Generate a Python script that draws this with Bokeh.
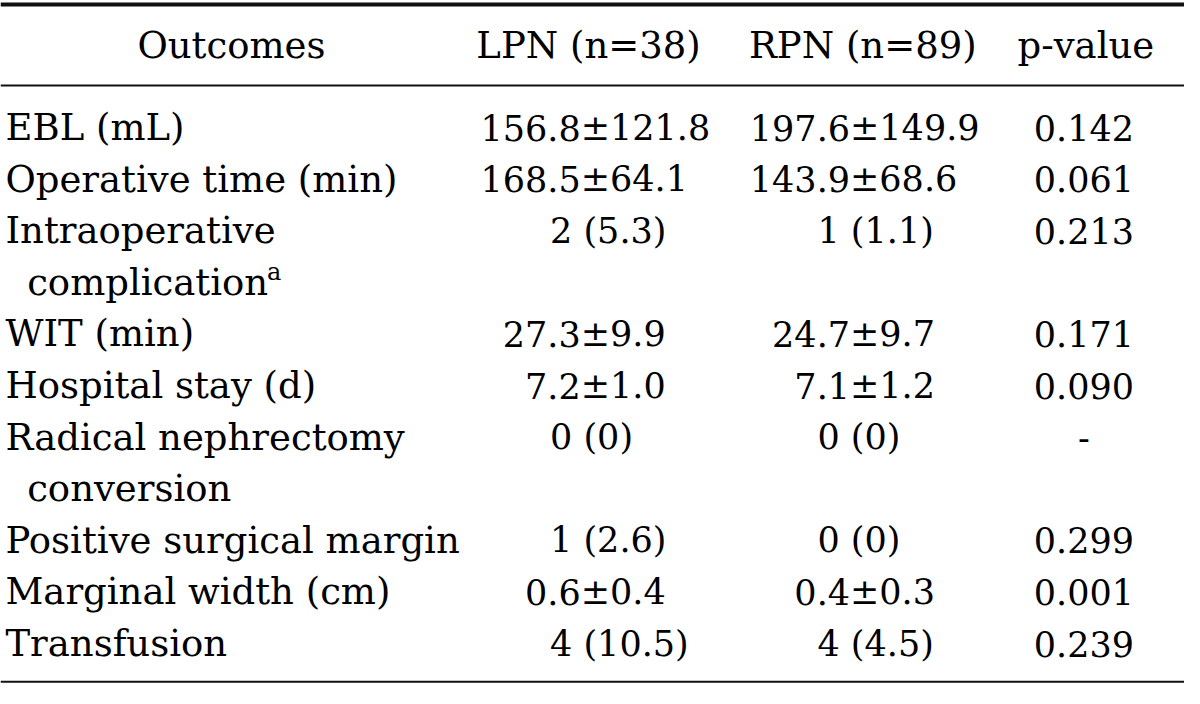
from bokeh.plotting import figure
from bokeh.models import Range1d
from bokeh.embed import file_html
from bokeh.resources import INLINE
from bokeh.core.properties import value

# ---- table content ----
headers = ["Outcomes", "LPN (n=38)", "RPN (n=89)", "p-value"]
label_lines = [
    ["EBL (mL)"],
    ["Operative time (min)"],
    ["Intraoperative", "complication"],
    ["WIT (min)"],
    ["Hospital stay (d)"],
    ["Radical nephrectomy", "conversion"],
    ["Positive surgical margin"],
    ["Marginal width (cm)"],
    ["Transfusion"],
]
footnote_marks = ["", "", "a", "", "", "", "", "", ""]
lpn = ["156.8±121.8", "168.5±64.1", "2 (5.3)", "27.3±9.9", "7.2±1.0",
       "0 (0)", "1 (2.6)", "0.6±0.4", "4 (10.5)"]
rpn = ["197.6±149.9", "143.9±68.6", "1 (1.1)", "24.7±9.7", "7.1±1.2",
       "0 (0)", "0 (0)", "0.4±0.3", "4 (4.5)"]
pvals = ["0.142", "0.061", "0.213", "0.171", "0.090", "-", "0.299", "0.001", "0.239"]

# ---- layout (data units = reference pixels) ----
W, H = 1200, 704
FONT = value("DejaVu Serif")
FS_LABEL = value("37px")
FS_NUM = value("35px")
COLOR = "#000000"
header_y = 46
first_row_y = 130
line_step = 52.8
label_x = 5
indent_x = 27
head_x = [234, 596, 874, 1100]
pm_anchor = {"lpn": 588, "rpn": 861}
count_left = {"lpn": 557, "rpn": 828}
p_x = 1098
char_w = 0.536 * 37 * W / 1184  # approx label char width in data units

p = figure(width=1184, height=688, x_range=Range1d(0, W), y_range=Range1d(H, 0),
           output_backend="svg", toolbar_location=None, min_border=0)
p.axis.visible = False
p.grid.visible = False
p.outline_line_color = None
p.background_fill_color = "white"
p.border_fill_color = "white"

# headers
p.text(x=head_x, y=[header_y] * 4, text=headers, text_font=FONT, text_font_size=FS_LABEL,
       text_align="center", text_baseline="middle", text_color=COLOR)

# row labels
lx, ly, lt = [], [], []
row_y = []
line_idx = 0
sup_lines = []
for i, lines in enumerate(label_lines):
    row_y.append(first_row_y + line_step * line_idx)
    for j, t in enumerate(lines):
        lx.append(label_x if j == 0 else indent_x)
        ly.append(first_row_y + line_step * line_idx)
        lt.append(t)
        line_idx += 1
    if footnote_marks[i]:
        sup_lines.append((lx[-1], ly[-1], lt[-1], footnote_marks[i]))

p.text(x=lx, y=ly, text=lt, text_font=FONT, text_font_size=FS_LABEL,
       text_align="left", text_baseline="middle", text_color=COLOR)

# superscript footnote marks after the label text
for (x0, y0, t, m) in sup_lines:
    p.text(x=[x0 + char_w * len(t) + 2], y=[y0 - 11], text=[m], text_font=FONT,
           text_font_size=value("24px"), text_align="left", text_baseline="middle",
           text_color=COLOR)

# value columns: "±" values aligned on the ± sign, counts left-aligned
for key, col in (("lpn", lpn), ("rpn", rpn)):
    rx_, ry_, rt_ = [], [], []
    lx_, ly_, lt_ = [], [], []
    cx_, cy_, ct_ = [], [], []
    for v, y in zip(col, row_y):
        if "±" in v:
            a, b = v.split("±")
            rx_.append(pm_anchor[key]); ry_.append(y); rt_.append(a)
            lx_.append(pm_anchor[key]); ly_.append(y); lt_.append("±" + b)
        else:
            cx_.append(count_left[key]); cy_.append(y); ct_.append(v)
    p.text(x=rx_, y=ry_, text=rt_, text_font=FONT, text_font_size=FS_NUM,
           text_align="right", text_baseline="middle", text_color=COLOR)
    p.text(x=lx_, y=ly_, text=lt_, text_font=FONT, text_font_size=FS_NUM,
           text_align="left", text_baseline="middle", text_color=COLOR)
    p.text(x=cx_, y=cy_, text=ct_, text_font=FONT, text_font_size=FS_NUM,
           text_align="left", text_baseline="middle", text_color=COLOR)

p.text(x=[p_x] * len(pvals), y=row_y, text=pvals, text_font=FONT, text_font_size=FS_NUM,
       text_align="center", text_baseline="middle", text_color=COLOR)

# horizontal rules
p.segment(x0=[0], x1=[W], y0=[4], y1=[4], line_color="#111111", line_width=4)
p.segment(x0=[0], x1=[W], y0=[87], y1=[87], line_color="#111111", line_width=2)
p.segment(x0=[0], x1=[W], y0=[697], y1=[697], line_color="#111111", line_width=2)

open("out.html", "w").write(file_html(p, INLINE))
